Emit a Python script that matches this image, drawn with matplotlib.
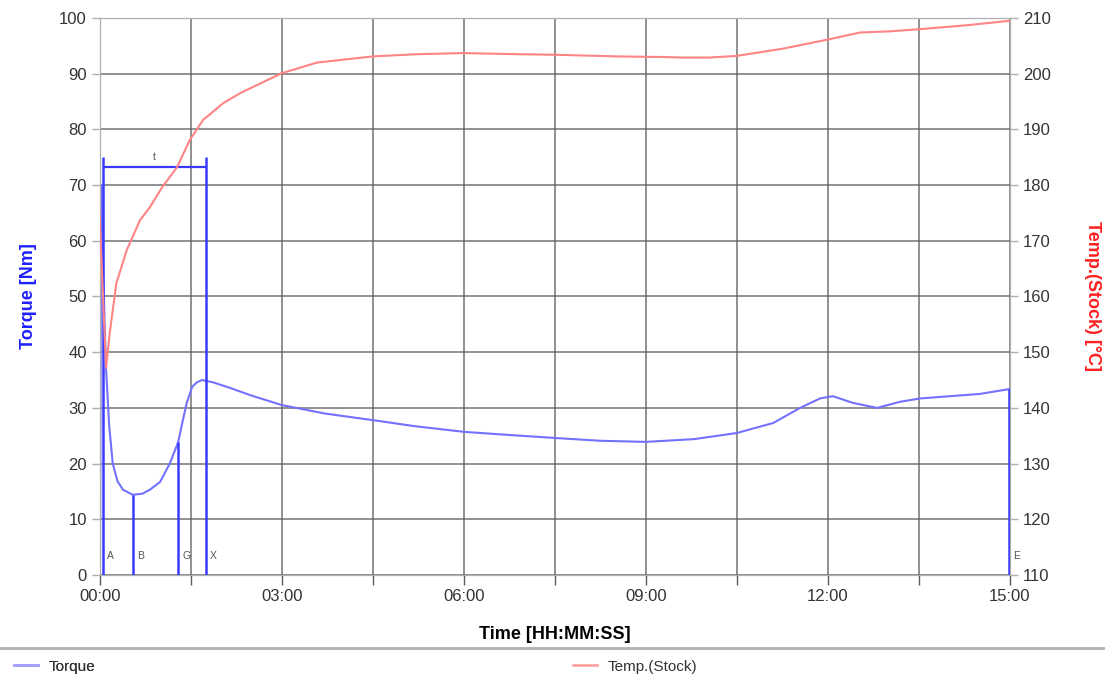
import matplotlib
matplotlib.use('Agg')
import matplotlib.pyplot as plt
from matplotlib.lines import Line2D
from matplotlib.ticker import FuncFormatter, MultipleLocator

plt.rcParams['font.family'] = ['Liberation Sans', 'DejaVu Sans']

# time in minutes
t_torque = [0.0, 0.02, 0.05, 0.10, 0.15, 0.21, 0.29, 0.38, 0.54, 0.70, 0.82, 0.99,
            1.15, 1.29, 1.36, 1.43, 1.52, 1.60, 1.68, 1.86, 2.14, 2.5, 3.0, 3.7,
            4.5, 5.2, 6.0, 6.8, 7.5, 8.24, 9.0, 9.8, 10.5, 11.1, 11.54, 11.87,
            12.08, 12.41, 12.81, 13.19, 13.52, 14.01, 14.5, 15.0]
torque = [0.0, 70.0, 55.0, 37.0, 27.0, 20.0, 16.8, 15.3, 14.4, 14.6, 15.3, 16.7,
          20.0, 23.9, 27.5, 30.9, 33.8, 34.6, 35.0, 34.6, 33.6, 32.2, 30.5, 29.0,
          27.8, 26.7, 25.7, 25.1, 24.6, 24.1, 23.9, 24.4, 25.5, 27.3, 30.0, 31.7,
          32.1, 30.9, 30.0, 31.1, 31.7, 32.1, 32.5, 33.4]

t_temp = [-0.03, 0.05, 0.10, 0.16, 0.27, 0.44, 0.66, 0.82, 1.03, 1.27, 1.48, 1.70,
          2.03, 2.31, 2.69, 3.0, 3.58, 4.5, 5.23, 5.98, 6.87, 7.50, 8.52, 9.24,
          9.60, 10.05, 10.50, 11.26, 12.03, 12.53, 13.02, 13.52, 14.29, 15.0]
temp = [180.4, 160.0, 147.2, 153.4, 162.4, 168.3, 173.7, 176.0, 179.7, 183.2,
        188.1, 191.7, 194.7, 196.5, 198.5, 200.1, 202.0, 203.1, 203.5, 203.7,
        203.5, 203.4, 203.1, 203.0, 202.9, 202.9, 203.2, 204.5, 206.2, 207.4,
        207.6, 208.0, 208.7, 209.5]

# event markers: name, time [min], torque height
mark_names = ['A', 'B', 'G', 'X', 'E']
mark_times = [0.05, 0.55, 1.29, 1.74, 14.99]
mark_heights = [75.0, 14.4, 23.9, 75.0, 33.4]
bracket_level = 73.2

fig = plt.figure(figsize=(11.05, 6.76), dpi=100)
ax = fig.add_axes([0.0905, 0.1494, 0.8235, 0.824])
ax2 = ax.twinx()

ax.plot(t_torque, torque, color='#7272ff', lw=1.5, zorder=3)
ax2.plot(t_temp, temp, color='#ff8484', lw=1.5, zorder=3)

blue = '#3a3aff'
for name, tm, h in zip(mark_names, mark_times, mark_heights):
    ax.vlines(tm, 0, h, color=blue, lw=1.8, zorder=4, clip_on=False)
    ax.text(tm + 0.07, 3.5, name, fontsize=7.5, color='#555555', va='center', zorder=5)
ax.vlines(0.005, 0, 75, color=blue, lw=1.4, zorder=4)
ax.hlines(bracket_level, mark_times[0], mark_times[3], color=blue, lw=1.6, zorder=4)
ax.text((mark_times[0] + mark_times[3]) / 2, bracket_level + 1.0, 't',
        fontsize=7.5, color='#555555', ha='center', va='bottom')

ax.set_xlim(0, 15)
ax.set_ylim(0, 100)
ax2.set_ylim(110, 210)
ax.xaxis.set_major_locator(MultipleLocator(1.5))
ax.xaxis.set_major_formatter(FuncFormatter(
    lambda v, p: f'{int(round(v)):02d}:00' if abs(v / 3 - round(v / 3)) < 1e-6 else ''))
ax.yaxis.set_major_locator(MultipleLocator(10))
ax2.yaxis.set_major_locator(MultipleLocator(10))

ax.grid(True, color='#5a5a5a', lw=1.1, alpha=0.85)
ax.set_axisbelow(True)
for a in (ax, ax2):
    for s in a.spines.values():
        s.set_color('#b0b0b0')
    a.tick_params(labelsize=12, colors='#333333', length=6, width=1)
ax.tick_params(axis='x', length=7, color='#5a5a5a', pad=3)
ax.tick_params(axis='y', color='#b0b0b0')
ax2.tick_params(axis='y', color='#b0b0b0')

ax.set_xlabel('Time [HH:MM:SS]', fontsize=13, fontweight='bold', labelpad=16)
ax.set_ylabel('Torque [Nm]', fontsize=13, fontweight='bold', color='#2020ff', labelpad=16)
ax2.set_ylabel('Temp.(Stock) [°C]', fontsize=13, fontweight='bold', color='#ff2020',
               rotation=270, labelpad=36)

# legend strip below
fig.add_artist(Line2D([0, 1], [0.041, 0.041], transform=fig.transFigure,
                      color='#b0b0b0', lw=2))
h1 = Line2D([], [], color='#a0a0ff', lw=1.8)
h2 = Line2D([], [], color='#ff9a9a', lw=1.8)
l1 = fig.legend([h1], ['Torque'], loc='lower left', bbox_to_anchor=(0.0, -0.017),
                frameon=False, fontsize=11, handlelength=1.6, handletextpad=0.7,
                labelcolor='#333333')
fig.add_artist(l1)
fig.legend([h2], ['Temp.(Stock)'], loc='lower left', bbox_to_anchor=(0.506, -0.017),
           frameon=False, fontsize=11, handlelength=1.6, handletextpad=0.7,
           labelcolor='#333333')

fig.savefig('out.png', dpi=100)
print('ok')
